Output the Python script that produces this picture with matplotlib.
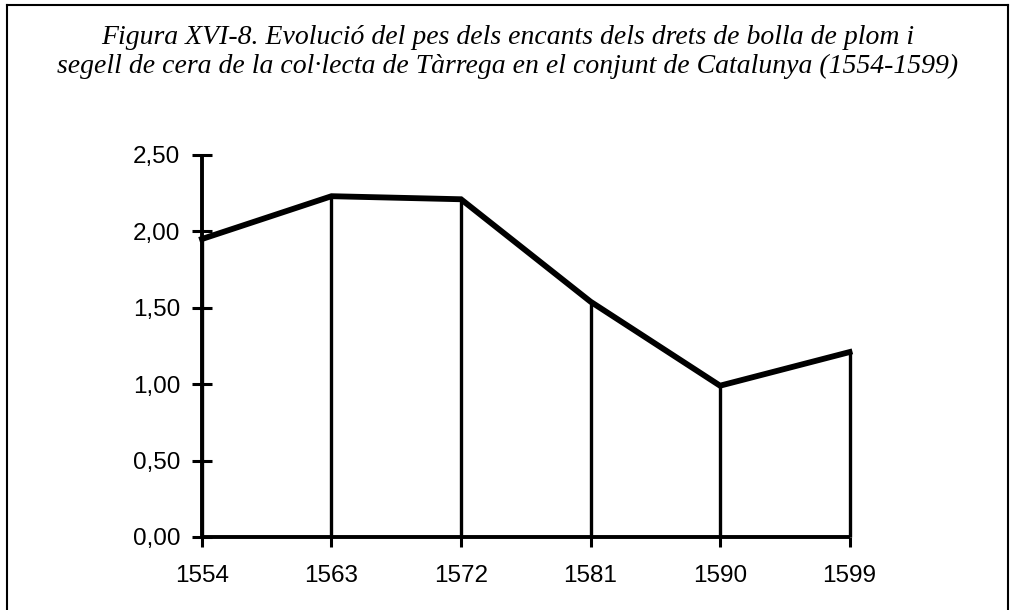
import matplotlib.pyplot as plt
from matplotlib.lines import Line2D

# Dades
anys = [1554, 1563, 1572, 1581, 1590, 1599]
valors = [1.95, 2.23, 2.21, 1.54, 0.99, 1.21]
yticks = [0.0, 0.5, 1.0, 1.5, 2.0, 2.5]
ytick_labels = ['0,00', '0,50', '1,00', '1,50', '2,00', '2,50']
titol = ("Figura XVI-8. Evolució del pes dels encants dels drets de bolla de plom i\n"
         "segell de cera de la col·lecta de Tàrrega en el conjunt de Catalunya (1554-1599)")

fig = plt.figure(figsize=(10.15, 6.1), dpi=100)
ax = fig.add_axes([0.199, 0.1197, 0.638, 0.6263])

# línia principal i línies verticals
ax.plot(anys, valors, color='black', lw=4.2, solid_joinstyle='miter',
        clip_on=False, zorder=3)
ax.vlines(anys, 0, valors, color='black', lw=2.4, clip_on=False, zorder=2)

ax.set_xlim(anys[0], anys[-1])
ax.set_ylim(0, 2.5)
ax.set_xticks(anys)
ax.set_xticklabels([str(a) for a in anys])
ax.set_yticks(yticks)
ax.set_yticklabels(ytick_labels)

for s in ['top', 'right']:
    ax.spines[s].set_visible(False)
for s in ['left', 'bottom']:
    ax.spines[s].set_linewidth(2.8)
    ax.spines[s].set_capstyle('butt')

ax.tick_params(axis='y', direction='inout', length=14, width=2.2, pad=8.5,
               labelsize=17.5)
ax.tick_params(axis='x', direction='out', length=7, width=2.2, pad=13,
               labelsize=17.5)
for lab in ax.get_xticklabels() + ax.get_yticklabels():
    lab.set_fontfamily('Liberation Sans')

fig.text(0.5, 0.914, titol, ha='center', va='center',
         fontsize=20, family='Liberation Serif', style='italic',
         linespacing=1.2)

# marc exterior
for xs, ys in [([0.007, 0.007], [0, 0.992]),
               ([0.007, 0.993], [0.992, 0.992]),
               ([0.993, 0.993], [0, 0.992])]:
    fig.add_artist(Line2D(xs, ys, color='black', lw=1.5,
                          transform=fig.transFigure))

fig.savefig('out.png', dpi=100)
